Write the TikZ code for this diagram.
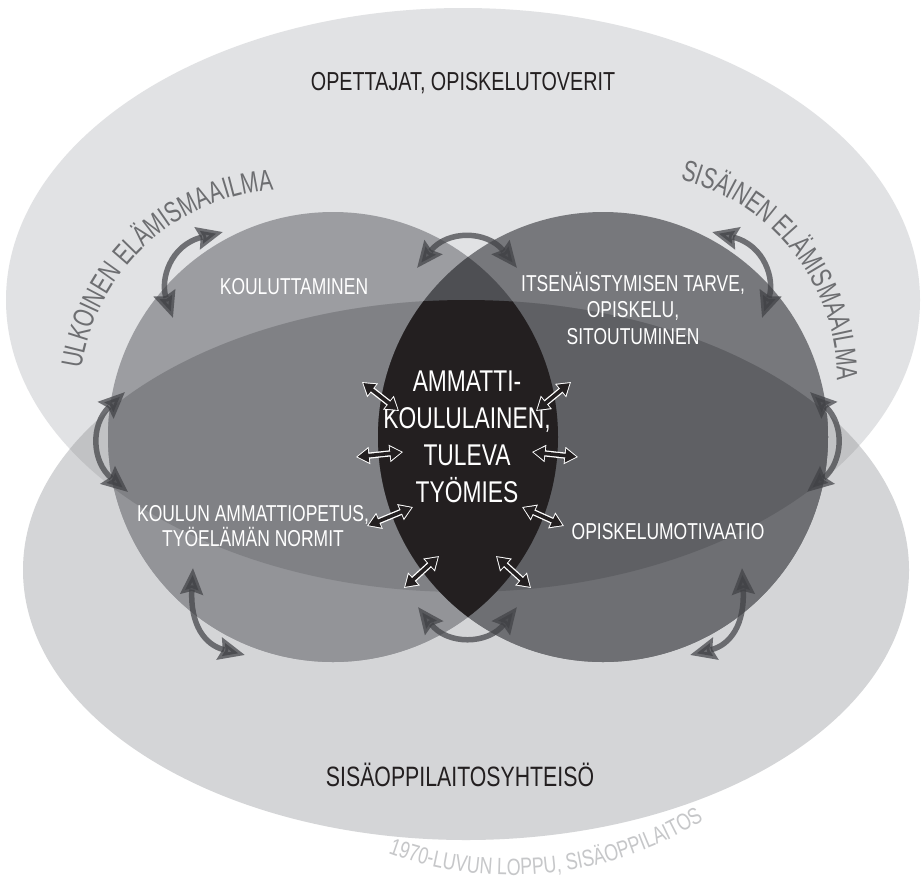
\documentclass[tikz,border=0pt]{standalone}
\usepackage{fontspec}
\setmainfont{Liberation Sans}[FakeStretch=0.76]
\newfontfamily\arcfont{Liberation Sans}[FakeStretch=0.71]
\usetikzlibrary{arrows.meta,decorations.text,calc}
\definecolor{cT}{HTML}{E1E2E4}
\definecolor{cB}{HTML}{D4D5D7}
\definecolor{cTB}{HTML}{C1C2C4}
\definecolor{cLT}{HTML}{9C9DA1}
\definecolor{cLB}{HTML}{939498}
\definecolor{cLTB}{HTML}{808185}
\definecolor{cRT}{HTML}{77787C}
\definecolor{cRB}{HTML}{6E6F73}
\definecolor{cRTB}{HTML}{5F6064}
\definecolor{cLens}{HTML}{4E4F53}
\definecolor{cCore}{HTML}{231F20}
\definecolor{cArr}{HTML}{404145}
\definecolor{cArc}{HTML}{6D6E71}
\definecolor{cYear}{HTML}{C6C7C9}
\definecolor{cInk}{HTML}{231F20}
\newcommand\ellT{(463,300) ellipse [x radius=457, y radius=292]}
\newcommand\ellB{(466,570) ellipse [x radius=443, y radius=270]}
\newcommand\cirL{(333,437) circle [radius=225]}
\newcommand\cirR{(603,437) circle [radius=225]}
\newcommand\smallarr[2]{%
  \draw[white, line width=6.2pt, {Triangle[length=13.5pt,width=16.5pt]}-{Triangle[length=13.5pt,width=16.5pt]}] (#1) -- (#2);
  \draw[cInk, line width=3.6pt, {Triangle[length=11pt,width=13pt]}-{Triangle[length=11pt,width=13pt]}, shorten <=1.6pt, shorten >=1.6pt] (#1) -- (#2);}
\begin{document}
\begin{tikzpicture}[x=1pt,y=-1pt,
  lab/.style={inner sep=0pt, align=center},
  inlab/.style={lab, text=white, font=\fontsize{23}{26}\selectfont},
  greyarr/.style={draw=cArr, opacity=0.71, line width=5.5pt,
    {Stealth[length=26pt,width=22pt,inset=3pt]}-{Stealth[length=26pt,width=22pt,inset=3pt]}}]
\useasboundingbox (0,0) rectangle (923,895);
\fill[white] (0,0) rectangle (923,895);
% big ellipses
\fill[cT] \ellT;
\fill[cB] \ellB;
\begin{scope}
  \clip \ellT;
  \fill[cTB] \ellB;
\end{scope}
% left circle
\fill[cLT] \cirL;
\begin{scope}
  \clip \ellB;
  \fill[cLB] \cirL;
  \clip \ellT;
  \fill[cLTB] \cirL;
\end{scope}
% right circle
\fill[cRT] \cirR;
\begin{scope}
  \clip \ellB;
  \fill[cRB] \cirR;
  \clip \ellT;
  \fill[cRTB] \cirR;
\end{scope}
% lens
\begin{scope}
  \clip \cirL;
  \fill[cLens] \cirR;
  \clip \ellB;
  \fill[cCore] \cirR;
\end{scope}
% texts
\node[lab, text=cInk, font=\fontsize{26}{30}\selectfont] (top) at (463,83) {OPETTAJAT, OPISKELUTOVERIT};
\node[lab, text=cInk, font=\fontsize{28}{30}\selectfont] (bot) at (460,775) {SISÄOPPILAITOSYHTEISÖ};
\node[inlab] (koul) at (294,287) {KOULUTTAMINEN};
\node[inlab, font=\fontsize{23}{26.5}\selectfont] (its) at (633,308) {ITSENÄISTYMISEN TARVE,\\OPISKELU,\\SITOUTUMINEN};
\node[inlab, font=\fontsize{23}{25}\selectfont] (amm) at (253,526) {KOULUN AMMATTIOPETUS,\\TYÖELÄMÄN NORMIT};
\node[inlab] (mot) at (668,532) {OPISKELUMOTIVAATIO};
\node[lab, text=white, font=\fontsize{30}{37}\selectfont] (core) at (467,437) {AMMATTI-\\KOULULAINEN,\\TULEVA\\TYÖMIES};
% curved texts
\path[decorate, decoration={text along path, text align=center,
  text={|\arcfont\fontsize{29.5}{30}\selectfont\color{cArc}|ULKOINEN ELÄMISMAAILMA}}]
  ($(290,400)+(164:211)$) arc[start angle=164, end angle=290, radius=211];
\path[decorate, decoration={text along path, text align=center,
  text={|\arcfont\fontsize{29.5}{30}\selectfont\color{cArc}|SISÄINEN ELÄMISMAAILMA}}]
  ($(632,379)+(259:205)$) arc[start angle=259, end angle=385, radius=205];
\path[decorate, decoration={text along path, text align=center,
  text={|\fontsize{23.5}{24}\selectfont\color{cYear}|1970-LUVUN LOPPU, SISÄOPPILAITOS}}]
  ($(512,513)+(134:362)$) arc[start angle=134, end angle=34, radius=362];
% grey curved double arrows
\coordinate (g1a) at (173,318); \coordinate (g1b) at (223,232);
\coordinate (g2a) at (417,268); \coordinate (g2b) at (517,268);
\coordinate (g3a) at (762,318); \coordinate (g3b) at (712,232);
\coordinate (g4a) at (125,392); \coordinate (g4b) at (128,492);
\coordinate (g5a) at (810,392); \coordinate (g5b) at (807,492);
\coordinate (g6a) at (193,568); \coordinate (g6b) at (245,655);
\coordinate (g7a) at (418,607); \coordinate (g7b) at (517,607);
\coordinate (g8a) at (742,568); \coordinate (g8b) at (690,655);
\draw[greyarr] (g1a) .. controls (160,280) and (170,245) .. (g1b);
\draw[greyarr] (g2a) .. controls (447,230) and (487,230) .. (g2b);
\draw[greyarr] (g3a) .. controls (775,280) and (765,245) .. (g3b);
\draw[greyarr] (g4a) .. controls (90,425) and (92,462) .. (g4b);
\draw[greyarr] (g5a) .. controls (845,425) and (843,462) .. (g5b);
\draw[greyarr] (g6a) .. controls (190,625) and (205,645) .. (g6b);
\draw[greyarr] (g7a) .. controls (447,645) and (488,645) .. (g7b);
\draw[greyarr] (g8a) .. controls (745,625) and (730,645) .. (g8b);
% small outlined double arrows
\coordinate (s1a) at (362,382); \coordinate (s1b) at (399,411);
\coordinate (s2a) at (571,382); \coordinate (s2b) at (536,411);
\coordinate (s3a) at (356,457); \coordinate (s3b) at (403,452);
\coordinate (s4a) at (532,452); \coordinate (s4b) at (578,457);
\coordinate (s5a) at (367,526); \coordinate (s5b) at (413,507);
\coordinate (s6a) at (522,507); \coordinate (s6b) at (564,526);
\coordinate (s7a) at (404,588); \coordinate (s7b) at (439,556);
\coordinate (s8a) at (496,556); \coordinate (s8b) at (531,588);
\smallarr{s1a}{s1b}
\smallarr{s2a}{s2b}
\smallarr{s3a}{s3b}
\smallarr{s4a}{s4b}
\smallarr{s5a}{s5b}
\smallarr{s6a}{s6b}
\smallarr{s7a}{s7b}
\smallarr{s8a}{s8b}
\end{tikzpicture}
\end{document}
